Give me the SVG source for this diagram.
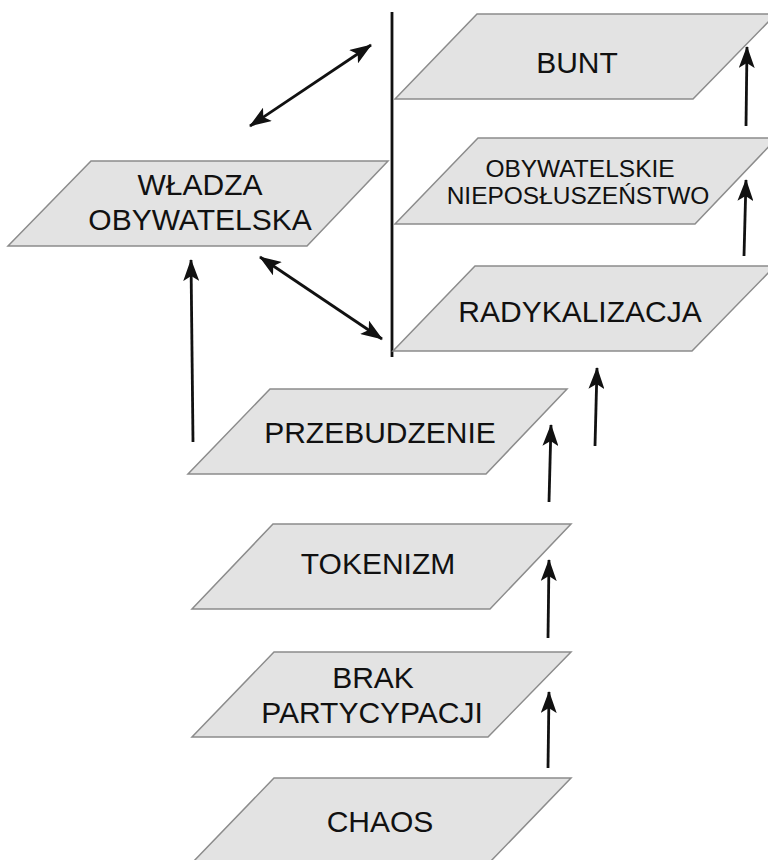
<svg xmlns="http://www.w3.org/2000/svg" width="768" height="860" viewBox="0 0 768 860">
<defs>
<style>
.box{fill:#e3e3e3;stroke:#8c8c8c;stroke-width:1.5}
.lbl{font-family:"Liberation Sans",Arial,sans-serif;font-size:30px;fill:#111;text-anchor:middle}
.sm{font-size:24.5px}
.arr{stroke:#111;stroke-width:2.8;fill:none}
</style>
<marker id="ah" viewBox="0 0 22 16" refX="21" refY="8" markerWidth="22" markerHeight="16" markerUnits="userSpaceOnUse" orient="auto-start-reverse">
<path d="M0,0 L22,8 L0,16 L5,8 Z" fill="#111"/>
</marker>
</defs>
<rect width="768" height="860" fill="#fff"/>
<g id="connectors">
<line class="arr" x1="392" y1="12" x2="392" y2="357"/>
<line class="arr" x1="250" y1="126" x2="371" y2="45" marker-start="url(#ah)" marker-end="url(#ah)"/>
<line class="arr" x1="260" y1="257" x2="382" y2="339" marker-start="url(#ah)" marker-end="url(#ah)"/>
<line class="arr" x1="193" y1="442" x2="191" y2="260" marker-end="url(#ah)"/>
<line class="arr" x1="746" y1="126" x2="747" y2="47" marker-end="url(#ah)"/>
<line class="arr" x1="744" y1="256" x2="746" y2="180" marker-end="url(#ah)"/>
<line class="arr" x1="595" y1="446" x2="597" y2="368" marker-end="url(#ah)"/>
<line class="arr" x1="549" y1="502" x2="551" y2="425" marker-end="url(#ah)"/>
<line class="arr" x1="548" y1="638" x2="549" y2="560" marker-end="url(#ah)"/>
<line class="arr" x1="548" y1="768" x2="549" y2="692" marker-end="url(#ah)"/>
</g>
<g id="wladza">
<polygon class="box" points="91,161 388,161 307,246 8,246"/>
<text class="lbl" x="200" y="195">WŁADZA</text>
<text class="lbl" x="200" y="230">OBYWATELSKA</text>
</g>
<g id="bunt">
<polygon class="box" points="477,14 776,14 693,99 395,99"/>
<text class="lbl" x="577" y="73">BUNT</text>
</g>
<g id="nieposluszenstwo">
<polygon class="box" points="478,138 777,138 695,224 395,224"/>
<text class="lbl sm" x="580" y="177">OBYWATELSKIE</text>
<text class="lbl sm" x="578" y="204">NIEPOSŁUSZEŃSTWO</text>
</g>
<g id="radykalizacja">
<polygon class="box" points="475,266 775,266 692,351 393,351"/>
<text class="lbl" x="580" y="322">RADYKALIZACJA</text>
</g>
<g id="przebudzenie">
<polygon class="box" points="270,389 567,389 486,474 188,474"/>
<text class="lbl" x="380" y="443">PRZEBUDZENIE</text>
</g>
<g id="tokenizm">
<polygon class="box" points="273,524 571,524 490,609 192,609"/>
<text class="lbl" x="378" y="574">TOKENIZM</text>
</g>
<g id="brak">
<polygon class="box" points="274,652 571,652 488,737 192,737"/>
<text class="lbl" x="373" y="688">BRAK</text>
<text class="lbl" x="372" y="723">PARTYCYPACJI</text>
</g>
<g id="chaos">
<polygon class="box" points="274,778 571,778 489,863 192,863"/>
<text class="lbl" x="380" y="832">CHAOS</text>
</g>
</svg>
